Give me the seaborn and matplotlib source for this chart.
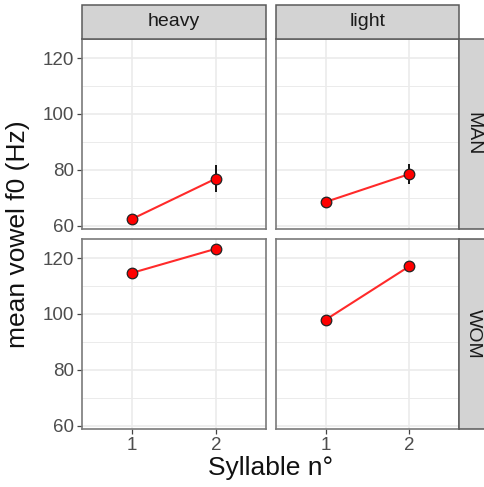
import numpy as np
import pandas as pd
import matplotlib
matplotlib.use("Agg")
import matplotlib.pyplot as plt
import seaborn as sns
from matplotlib.patches import Rectangle
from matplotlib.ticker import MultipleLocator

# ---- data ----
syllable = [1, 2]
weights = ["heavy", "light"]
speakers = ["MAN", "WOM"]
f0_man_heavy = [62.5, 76.9]
f0_man_light = [68.6, 78.5]
f0_wom_heavy = [114.7, 123.3]
f0_wom_light = [98.0, 117.0]
se_man_heavy = [1.0, 4.8]
se_man_light = [0.8, 3.5]
se_wom_heavy = [0.8, 0.8]
se_wom_light = [0.8, 0.8]
y_ticks = [60, 80, 100, 120]
x_ticks = [1, 2]

rows = []
for spk, wt, vals, ses in [
    ("MAN", "heavy", f0_man_heavy, se_man_heavy),
    ("MAN", "light", f0_man_light, se_man_light),
    ("WOM", "heavy", f0_wom_heavy, se_wom_heavy),
    ("WOM", "light", f0_wom_light, se_wom_light),
]:
    for s, v, e in zip(syllable, vals, ses):
        rows.append(dict(speaker=spk, weight=wt, syllable=s, f0=v, se=e))
df = pd.DataFrame(rows)

sns.set_style("white")
plt.rcParams["font.family"] = ["Liberation Sans", "DejaVu Sans"]

W, H = 485, 487
fig = plt.figure(figsize=(W / 100, H / 100), dpi=100)

def fx(px):
    return px / W

def fy(py):
    return 1 - py / H

col_x = [(82, 266), (276, 459)]
row_y = [(39, 229), (239, 429)]

for ri, spk in enumerate(speakers):
    for ci, wt in enumerate(weights):
        x0, x1 = col_x[ci]
        y0, y1 = row_y[ri]
        ax = fig.add_axes([fx(x0), fy(y1), fx(x1) - fx(x0), fy(y0) - fy(y1)])
        sub = df[(df.speaker == spk) & (df.weight == wt)]
        ax.errorbar(sub.syllable, sub.f0, yerr=sub.se, fmt="none",
                    ecolor="black", elinewidth=1.3, capsize=0, zorder=2)
        sns.lineplot(data=sub, x="syllable", y="f0", ax=ax, color="#FF2A2A",
                     linewidth=1.5, errorbar=None, zorder=3)
        sns.scatterplot(data=sub, x="syllable", y="f0", ax=ax, color="#FF0000",
                        edgecolor="#222222", linewidth=0.9, s=58, zorder=4)
        ax.set_xlim(0.4, 2.6)
        ax.set_ylim(58.9, 126.8)
        ax.set_xticks(x_ticks)
        ax.set_yticks(y_ticks)
        ax.yaxis.set_minor_locator(MultipleLocator(10))
        ax.set_axisbelow(True)
        ax.grid(which="major", color="#EBEBEB", linewidth=1.2)
        ax.grid(which="minor", axis="y", color="#EBEBEB", linewidth=0.7)
        ax.set_xlabel("")
        ax.set_ylabel("")
        for sp in ax.spines.values():
            sp.set_color("#7A7A7A")
            sp.set_linewidth(1.2)
        ax.tick_params(which="minor", length=0)
        ax.tick_params(which="major", length=3.5, width=0.9, color="#444444",
                       labelcolor="#4D4D4D", labelsize=13.5, pad=2,
                       left=(ci == 0), bottom=(ri == 1),
                       labelleft=(ci == 0), labelbottom=(ri == 1))
        ax.set_xticklabels([str(v) for v in x_ticks])
        ax.set_yticklabels([str(v) for v in y_ticks])

# column strips
for ci, wt in enumerate(weights):
    x0, x1 = col_x[ci]
    fig.add_artist(Rectangle((fx(x0), fy(39)), fx(x1) - fx(x0), fy(5) - fy(39),
                             transform=fig.transFigure, facecolor="#D3D3D3",
                             edgecolor="#5A5A5A", linewidth=1.1))
    fig.text(fx((x0 + x1) / 2), fy(22), wt, ha="center", va="center",
             size=14, color="#1A1A1A")

# row strips
for ri, spk in enumerate(speakers):
    y0, y1 = row_y[ri]
    fig.add_artist(Rectangle((fx(459), fy(y1)), fx(490) - fx(459), fy(y0) - fy(y1),
                             transform=fig.transFigure, facecolor="#D3D3D3",
                             edgecolor="#5A5A5A", linewidth=1.1))
    fig.text(fx(473), fy((y0 + y1) / 2), spk, ha="center", va="center",
             size=14, color="#1A1A1A", rotation=270)

fig.text(fx(18), fy(234), "mean vowel f0 (Hz)", rotation=90, ha="center",
         va="center", size=19, color="#111111")
fig.text(fx(270.5), fy(468), "Syllable n°", ha="center", va="center",
         size=19, color="#111111")

fig.savefig("out.png", dpi=100)
